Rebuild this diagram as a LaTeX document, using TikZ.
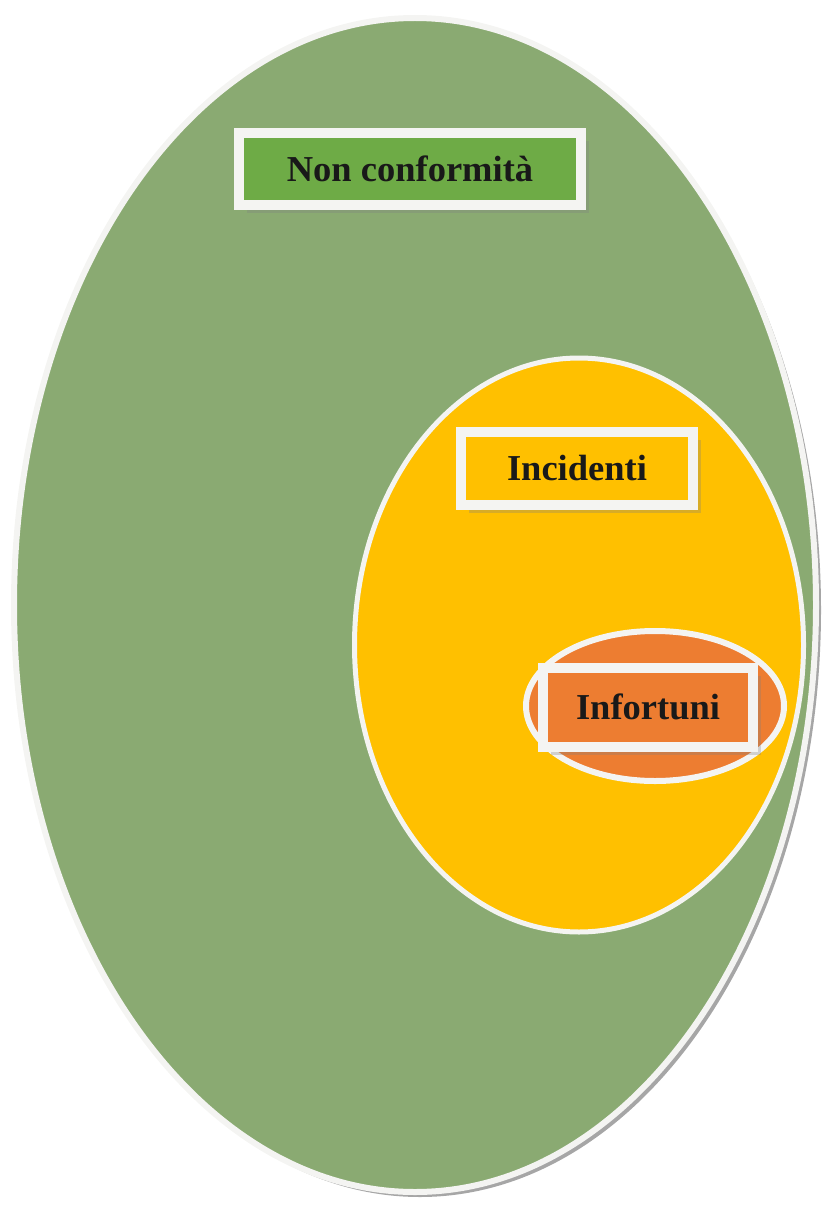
\documentclass[tikz,border=0pt]{standalone}
\usepackage{fontspec}
\setmainfont{Liberation Serif}
\usetikzlibrary{shapes.geometric,shadows}

\definecolor{ncgreen}{HTML}{8AAA72}
\definecolor{boxgreen}{HTML}{6EAB46}
\definecolor{incyellow}{HTML}{FFC000}
\definecolor{infoorange}{HTML}{ED7D31}
\definecolor{rimwhite}{HTML}{F4F4F2}

\begin{document}
\begin{tikzpicture}[x=1pt, y=-1pt,
    zone/.style={draw=rimwhite, ellipse, inner sep=0pt},
    tag/.style={draw=rimwhite, rectangle, line width=10pt, inner sep=0pt,
      font=\fontsize{36.5}{42}\selectfont\bfseries, text=black!90,
      drop shadow={shadow xshift=8pt, shadow yshift=-8pt, opacity=.3}}]
    \useasboundingbox (0,0) rectangle (832,1209);
    % Non conformita
    \node[zone, fill=ncgreen, line width=6pt, minimum width=802pt, minimum height=1174pt,
      drop shadow={shadow xshift=5pt, shadow yshift=-5pt, fill=gray!70, opacity=1}] (nc) at (415,605) {};
    \node[tag, fill=boxgreen, minimum width=342pt, minimum height=72pt] (nct) at (410,169) {Non conformità};
    % Incidenti
    \node[zone, fill=incyellow, line width=5pt, minimum width=449pt, minimum height=574pt] (inc) at (579,645) {};
    \node[tag, fill=incyellow, minimum width=232pt, minimum height=73pt] (inct) at (577,468) {Incidenti};
    % Infortuni
    \node[zone, fill=infoorange, line width=6pt, minimum width=258pt, minimum height=150pt] (inf) at (655,706) {};
    \node[tag, fill=infoorange, minimum width=210pt, minimum height=79pt] (inft) at (648,707) {Infortuni};
\end{tikzpicture}
\end{document}
